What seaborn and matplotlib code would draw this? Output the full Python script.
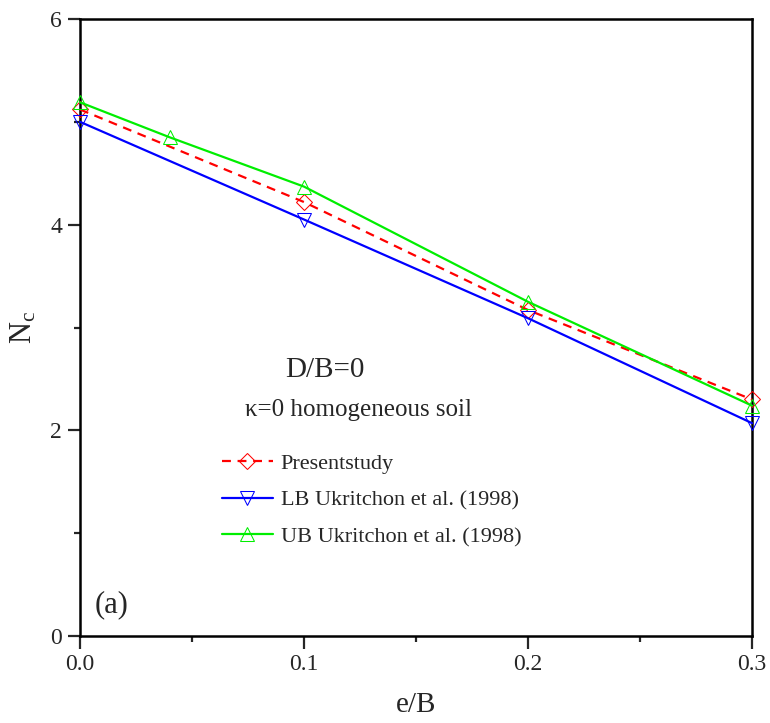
import matplotlib
matplotlib.use("Agg")
import matplotlib.pyplot as plt
import seaborn as sns
import pandas as pd
from matplotlib.ticker import MultipleLocator

sns.set_style("white")
plt.rcParams['font.family'] = ['Liberation Serif', 'DejaVu Serif']
plt.rcParams['mathtext.fontset'] = 'custom'
plt.rcParams['mathtext.rm'] = 'Liberation Serif'
plt.rcParams['mathtext.it'] = 'Liberation Serif'

present_x = [0.0, 0.1, 0.2, 0.3]
present_y = [5.12, 4.22, 3.17, 2.30]
lb_x = [0.0, 0.1, 0.2, 0.3]
lb_y = [5.0, 4.05, 3.09, 2.07]
ub_x = [0.0, 0.04, 0.1, 0.2, 0.3]
ub_y = [5.19, 4.85, 4.37, 3.25, 2.24]

labels = ["Presentstudy", "LB Ukritchon et al. (1998)", "UB Ukritchon et al. (1998)"]

df_p = pd.DataFrame({"x": present_x, "y": present_y})
df_l = pd.DataFrame({"x": lb_x, "y": lb_y})
df_u = pd.DataFrame({"x": ub_x, "y": ub_y})

fig = plt.figure(figsize=(7.7, 7.23), dpi=100)
ax = fig.add_axes([80/770, 1-636/723, 672/770, 617/723])

common = dict(markersize=10, markerfacecolor='none', linewidth=1.6, clip_on=False, zorder=3)
sns.lineplot(data=df_p, x="x", y="y", ax=ax, color='#ff0000', marker='D',
             markeredgecolor='#ff0000', label=labels[0], **{**common, 'markersize': 8})
ax.lines[-1].set_linestyle((0, (4, 3)))
sns.lineplot(data=df_l, x="x", y="y", ax=ax, color='#0000ff', marker='v',
             markeredgecolor='#0000ff', label=labels[1], **common)
sns.lineplot(data=df_u, x="x", y="y", ax=ax, color='#00ee00', marker='^',
             markeredgecolor='#00ee00', label=labels[2], **common)

ax.set_xlim(0, 0.3)
ax.set_ylim(0, 6)
ax.xaxis.set_major_locator(MultipleLocator(0.1))
ax.xaxis.set_minor_locator(MultipleLocator(0.05))
ax.yaxis.set_major_locator(MultipleLocator(2))
ax.yaxis.set_minor_locator(MultipleLocator(1))
ax.set_xticklabels([f"{v:.1f}" for v in ax.get_xticks()])
ax.tick_params(which='major', direction='out', length=9, width=1.6, labelsize=17,
               bottom=True, left=True, pad=4)
ax.tick_params(which='minor', direction='out', length=4.5, width=1.6, bottom=True, left=True)
for s in ax.spines.values():
    s.set_linewidth(1.8)
    s.set_color('black')

ax.set_xlabel("e/B", fontsize=21, labelpad=12)
ax.set_ylabel(r"N$_\mathregular{c}$", fontsize=22, labelpad=8)

ax.text(0.305, 0.431, "D/B=0", transform=ax.transAxes, fontsize=21, va='center')
ax.text(0.245, 0.366, "κ=0 homogeneous soil", transform=ax.transAxes, fontsize=18, va='center')
ax.text(0.022, 0.05, "(a)", transform=ax.transAxes, fontsize=22, va='center')

leg = ax.legend(loc='upper left', bbox_to_anchor=(0.211, 0.296), frameon=False, fontsize=16,
                handlelength=2.3, borderaxespad=0, borderpad=0, labelspacing=0.72,
                handletextpad=0.35)

fig.savefig("out.png", dpi=100)
